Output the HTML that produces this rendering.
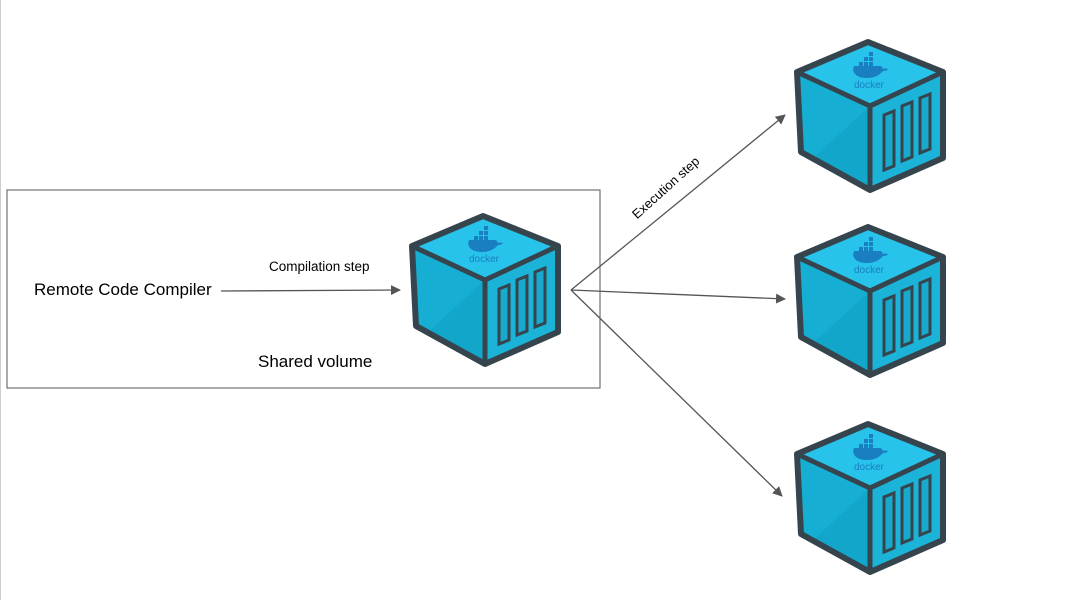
<!DOCTYPE html>
<html><head><meta charset="utf-8"><style>
html,body{margin:0;padding:0;background:#fff;}
svg{display:block;font-family:"Liberation Sans",sans-serif;}
</style></head><body>
<svg width="1092" height="600" viewBox="0 0 1092 600" xmlns="http://www.w3.org/2000/svg">
<defs>
<g id="cube">
  <polygon points="75,4 150,34 77,68 4,34" fill="#27c3ea"/>
  <polygon points="4,34 77,68 77,152 8,114" fill="#13a6cb"/>
  <polygon points="4,34 77,68 20,120 8,114" fill="#17aed3"/>
  <polygon points="77,68 150,34 150,120 77,152" fill="#1cb3d8"/>
  <polygon points="75,4 150,34 150,120 77,152 8,114 4,34" fill="none" stroke="#36454d" stroke-width="6" stroke-linejoin="round"/>
  <polyline points="4,34 77,68 150,34" fill="none" stroke="#36454d" stroke-width="5" stroke-linejoin="round"/>
  <line x1="77" y1="68" x2="77" y2="152" stroke="#36454d" stroke-width="5"/>
  <g fill="#18a9cc" stroke="#36454d" stroke-width="3">
    <polygon points="91,77 101,73 101,128 91,132"/>
    <polygon points="109,68 119,64 119,119 109,123"/>
    <polygon points="127,60 137,56 137,111 127,115"/>
  </g>
  <g fill="#1a7fc1">
    <path d="M60,32 q2,8 14,8 q10,0 16,-7 q4,0 5,-2 q-3,-1 -5,0 q-1,-3 -3,-3 l-26,0 z"/>
    <rect x="66" y="24" width="4" height="4"/><rect x="71" y="24" width="4" height="4"/><rect x="76" y="24" width="4" height="4"/>
    <rect x="71" y="19" width="4" height="4"/><rect x="76" y="19" width="4" height="4"/><rect x="76" y="14" width="4" height="4"/>
  </g>
  <text x="76" y="50" font-size="10" fill="#1a7fc1" text-anchor="middle">docker</text>
</g>
<marker id="ah" markerWidth="10" markerHeight="10" refX="9" refY="5" orient="auto" markerUnits="userSpaceOnUse">
  <path d="M0,0 L10,5 L0,10 z" fill="#555"/>
</marker>
</defs>
<rect x="7" y="190" width="593" height="198" fill="none" stroke="#555" stroke-width="1"/>
<text x="34" y="295" font-size="17" fill="#000">Remote Code Compiler</text>
<text x="269" y="271" font-size="13.5" fill="#000">Compilation step</text>
<text x="258" y="367" font-size="17" fill="#000">Shared volume</text>
<line x1="221" y1="291" x2="400" y2="290" stroke="#555" stroke-width="1.3" marker-end="url(#ah)"/>
<line x1="571" y1="290" x2="785" y2="115" stroke="#555" stroke-width="1.3" marker-end="url(#ah)"/>
<line x1="571" y1="290" x2="785" y2="299" stroke="#555" stroke-width="1.3" marker-end="url(#ah)"/>
<line x1="571" y1="290" x2="782" y2="496" stroke="#555" stroke-width="1.3" marker-end="url(#ah)"/>
<text x="666" y="192" font-size="13" fill="#000" text-anchor="middle" transform="rotate(-42 666 188)">Execution step</text>
<use href="#cube" x="408" y="212"/>
<use href="#cube" x="793" y="38"/>
<use href="#cube" x="793" y="223"/>
<use href="#cube" x="793" y="420"/>
<line x1="0.5" y1="0" x2="0.5" y2="600" stroke="#ccc"/>
</svg>
</body></html>
